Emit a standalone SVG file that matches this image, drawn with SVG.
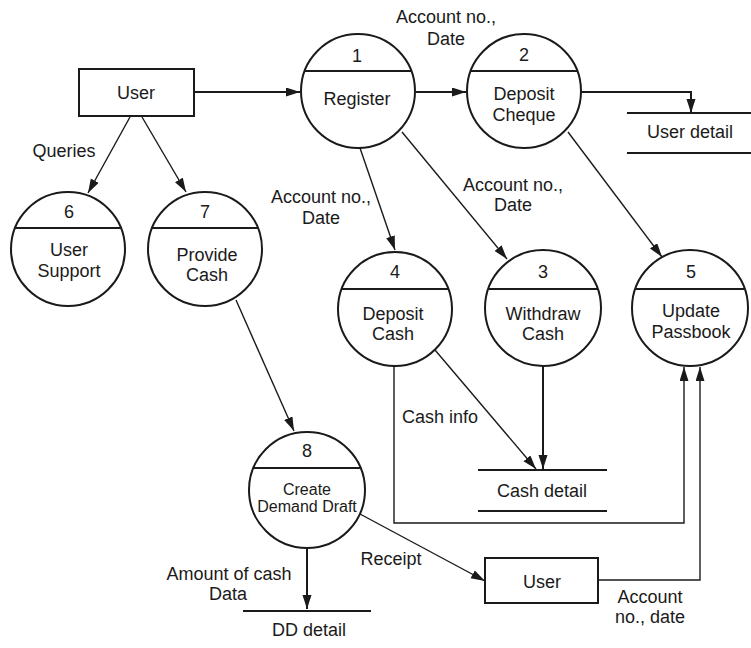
<svg xmlns="http://www.w3.org/2000/svg" width="751" height="648" viewBox="0 0 751 648">
<defs>
<marker id="ah" markerUnits="userSpaceOnUse" markerWidth="15" markerHeight="10" refX="14" refY="4.5" orient="auto">
<path d="M0,0 L14,4.5 L0,9 z" fill="#1a1a1a"/>
</marker>
</defs>
<style>
text{font-family:"Liberation Sans",Arial,sans-serif;font-size:18px;fill:#1a1a1a;text-anchor:middle}
.sm{font-size:16px}
.proc circle{fill:#fff;stroke:#1a1a1a;stroke-width:2}
.proc line{stroke:#1a1a1a;stroke-width:2}
.ent rect{fill:#fff;stroke:#1a1a1a;stroke-width:2}
.store line{stroke:#1a1a1a;stroke-width:2}
.c{fill:none;stroke:#1a1a1a;stroke-width:1.4}
.t{fill:none;stroke:#1a1a1a;stroke-width:2}
</style>
<rect width="751" height="648" fill="#fff"/>
<g id="connectors">
<line class="t" x1="194" y1="92" x2="300" y2="92" marker-end="url(#ah)"/>
<line class="t" x1="416" y1="92" x2="466" y2="92" marker-end="url(#ah)"/>
<polyline class="t" points="581,92 691,92 691,113" marker-end="url(#ah)"/>
<line class="c" x1="130" y1="117" x2="88" y2="193" marker-end="url(#ah)"/>
<line class="c" x1="142" y1="117" x2="186" y2="192" marker-end="url(#ah)"/>
<line class="c" x1="360" y1="148" x2="395" y2="250" marker-end="url(#ah)"/>
<line class="c" x1="402" y1="132" x2="507" y2="259" marker-end="url(#ah)"/>
<line class="c" x1="568" y1="132" x2="662" y2="257" marker-end="url(#ah)"/>
<line class="c" x1="236" y1="300" x2="294" y2="431" marker-end="url(#ah)"/>
<line class="c" x1="435" y1="350" x2="536" y2="469" marker-end="url(#ah)"/>
<line class="t" x1="543" y1="366" x2="543" y2="469" marker-end="url(#ah)"/>
<polyline class="c" points="394,366 394,523 684,523 684,367" marker-end="url(#ah)"/>
<line class="t" x1="307" y1="547" x2="307" y2="609" marker-end="url(#ah)"/>
<line class="c" x1="360" y1="514" x2="485" y2="581" marker-end="url(#ah)"/>
<polyline class="c" points="598,580 700,580 700,367" marker-end="url(#ah)"/>
</g>
<g id="user-top" class="ent">
<rect x="79" y="69" width="115" height="47"/>
<text x="136" y="99">User</text>
</g>
<g id="p1" class="proc">
<circle cx="358" cy="91" r="57"/>
<line x1="305" y1="71" x2="411" y2="71"/>
<text x="357" y="62">1</text>
<text x="357" y="105">Register</text>
</g>
<g id="p2" class="proc">
<circle cx="524" cy="91" r="57"/>
<line x1="471" y1="71" x2="577" y2="71"/>
<text x="524" y="61">2</text>
<text x="524" y="100">Deposit</text>
<text x="524" y="121">Cheque</text>
</g>
<g id="user-detail" class="store">
<line x1="627" y1="113" x2="751" y2="113"/>
<line x1="627" y1="153" x2="751" y2="153"/>
<text x="690" y="138">User detail</text>
</g>
<g id="p6" class="proc">
<circle cx="68" cy="249" r="57"/>
<line x1="15" y1="228" x2="121" y2="228"/>
<text x="69" y="218">6</text>
<text x="69" y="256">User</text>
<text x="69" y="277">Support</text>
</g>
<g id="p7" class="proc">
<circle cx="205" cy="249" r="57"/>
<line x1="152" y1="228" x2="258" y2="228"/>
<text x="205" y="218">7</text>
<text x="207" y="261">Provide</text>
<text x="207" y="281">Cash</text>
</g>
<g id="p4" class="proc">
<circle cx="395" cy="309" r="57"/>
<line x1="342" y1="289" x2="448" y2="289"/>
<text x="395" y="278">4</text>
<text x="393" y="320">Deposit</text>
<text x="393" y="340">Cash</text>
</g>
<g id="p3" class="proc">
<circle cx="543" cy="308" r="58"/>
<line x1="489" y1="289" x2="597" y2="289"/>
<text x="543" y="278">3</text>
<text x="543" y="320">Withdraw</text>
<text x="543" y="340">Cash</text>
</g>
<g id="p5" class="proc">
<circle cx="690" cy="308" r="58"/>
<line x1="636" y1="289" x2="744" y2="289"/>
<text x="691" y="278">5</text>
<text x="691" y="317">Update</text>
<text x="691" y="338">Passbook</text>
</g>
<g id="cash-detail" class="store">
<line x1="478" y1="470" x2="607" y2="470"/>
<line x1="478" y1="511" x2="607" y2="511"/>
<text x="542" y="497">Cash detail</text>
</g>
<g id="p8" class="proc">
<circle cx="307" cy="490" r="58"/>
<line x1="253" y1="468" x2="361" y2="468"/>
<text x="307" y="457">8</text>
<text class="sm" x="307" y="495">Create</text>
<text class="sm" x="307" y="512">Demand Draft</text>
</g>
<g id="dd-detail" class="store">
<line x1="243" y1="611" x2="371" y2="611"/>
<text x="309" y="636">DD detail</text>
</g>
<g id="user-bottom" class="ent">
<rect x="485" y="558" width="113" height="45"/>
<text x="542" y="588">User</text>
</g>
<g id="labels">
<text x="446" y="23">Account no.,</text>
<text x="446" y="45">Date</text>
<text x="64" y="157">Queries</text>
<text x="321" y="203">Account no.,</text>
<text x="321" y="224">Date</text>
<text x="513" y="191">Account no.,</text>
<text x="513" y="211">Date</text>
<text x="440" y="423">Cash info</text>
<text x="391" y="565">Receipt</text>
<text x="229" y="580">Amount of cash</text>
<text x="228" y="600">Data</text>
<text x="650" y="603">Account</text>
<text x="650" y="623">no., date</text>
</g>
</svg>
